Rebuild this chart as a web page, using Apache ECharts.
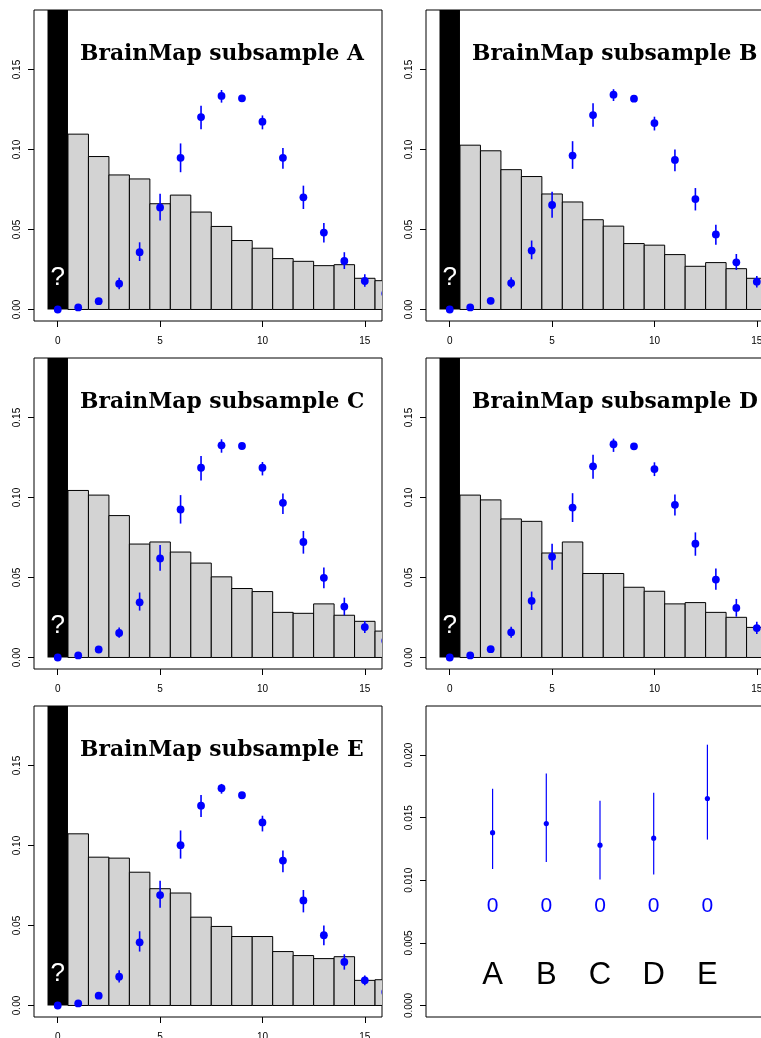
<!DOCTYPE html>
<html>
<head>
<meta charset="utf-8">
<script src="https://cdn.jsdelivr.net/npm/echarts@6/dist/echarts.min.js"></script>
<style>
  html, body { margin: 0; padding: 0; background: #fff; }
  #chart { width: 761px; height: 1038px; }
</style>
</head>
<body>
<div id="chart"></div>
<script>
// histogram bins 1..16 (bin 0 is the unknown "?" bar)
const histBins = [1, 2, 3, 4, 5, 6, 7, 8, 9, 10, 11, 12, 13, 14, 15, 16];
const pointBins = [0, 1, 2, 3, 4, 5, 6, 7, 8, 9, 10, 11, 12, 13, 14, 15, 16];

const histA = [0.1096, 0.0956, 0.0841, 0.0816, 0.0661, 0.0715, 0.0609, 0.0519, 0.0431, 0.0383, 0.0318, 0.0301, 0.0274, 0.0280, 0.0195, 0.0180];
const histB = [0.1027, 0.0992, 0.0874, 0.0831, 0.0722, 0.0672, 0.0561, 0.0521, 0.0412, 0.0402, 0.0343, 0.0270, 0.0293, 0.0255, 0.0195, 0.0185];
const histC = [0.1044, 0.1015, 0.0887, 0.0709, 0.0722, 0.0659, 0.0590, 0.0504, 0.0431, 0.0412, 0.0282, 0.0276, 0.0335, 0.0264, 0.0226, 0.0165];
const histD = [0.1015, 0.0985, 0.0866, 0.0851, 0.0653, 0.0722, 0.0525, 0.0525, 0.0439, 0.0414, 0.0335, 0.0343, 0.0282, 0.0251, 0.0188, 0.0170];
const histE = [0.1073, 0.0927, 0.0921, 0.0833, 0.0730, 0.0703, 0.0552, 0.0494, 0.0431, 0.0431, 0.0337, 0.0312, 0.0293, 0.0305, 0.0157, 0.0161];

const fitA = [0, 0.0013, 0.0052, 0.0161, 0.0358, 0.0638, 0.0948, 0.1203, 0.1335, 0.1320, 0.1174, 0.0948, 0.0701, 0.0481, 0.0303, 0.0178, 0.0100];
const lowA = [0, 0.0008, 0.0043, 0.0126, 0.0303, 0.0556, 0.0858, 0.1126, 0.1293, 0.1305, 0.1126, 0.0879, 0.0628, 0.0418, 0.0253, 0.0142, 0.0075];
const highA = [0, 0.0018, 0.0062, 0.0199, 0.0420, 0.0724, 0.1038, 0.1274, 0.1372, 0.1335, 0.1213, 0.1010, 0.0774, 0.0540, 0.0358, 0.0220, 0.0125];

const fitB = [0, 0.0013, 0.0054, 0.0165, 0.0368, 0.0653, 0.0962, 0.1215, 0.1343, 0.1318, 0.1165, 0.0935, 0.0690, 0.0469, 0.0295, 0.0174, 0.0095];
const lowB = [0, 0.0008, 0.0045, 0.0132, 0.0314, 0.0573, 0.0879, 0.1142, 0.1303, 0.1303, 0.1119, 0.0864, 0.0619, 0.0404, 0.0247, 0.0138, 0.0070];
const highB = [0, 0.0018, 0.0064, 0.0201, 0.0431, 0.0736, 0.1052, 0.1289, 0.1377, 0.1333, 0.1205, 0.1000, 0.0759, 0.0529, 0.0347, 0.0209, 0.0120];

const fitC = [0, 0.0013, 0.0050, 0.0153, 0.0345, 0.0619, 0.0925, 0.1186, 0.1326, 0.1322, 0.1186, 0.0967, 0.0722, 0.0498, 0.0318, 0.0190, 0.0105];
const lowC = [0, 0.0008, 0.0041, 0.0123, 0.0293, 0.0542, 0.0837, 0.1107, 0.1280, 0.1307, 0.1138, 0.0897, 0.0649, 0.0433, 0.0264, 0.0153, 0.0080];
const highC = [0, 0.0018, 0.0060, 0.0188, 0.0406, 0.0703, 0.1015, 0.1259, 0.1364, 0.1337, 0.1222, 0.1025, 0.0791, 0.0563, 0.0374, 0.0228, 0.0130];

const fitD = [0, 0.0013, 0.0052, 0.0157, 0.0354, 0.0630, 0.0937, 0.1195, 0.1333, 0.1320, 0.1178, 0.0954, 0.0711, 0.0487, 0.0310, 0.0184, 0.0100];
const lowD = [0, 0.0008, 0.0043, 0.0123, 0.0297, 0.0548, 0.0847, 0.1117, 0.1285, 0.1305, 0.1134, 0.0887, 0.0636, 0.0423, 0.0255, 0.0146, 0.0075];
const highD = [0, 0.0018, 0.0062, 0.0192, 0.0412, 0.0711, 0.1027, 0.1268, 0.1368, 0.1335, 0.1220, 0.1019, 0.0782, 0.0556, 0.0366, 0.0224, 0.0125];

const fitE = [0, 0.0013, 0.0061, 0.0180, 0.0395, 0.0690, 0.1002, 0.1249, 0.1358, 0.1314, 0.1144, 0.0906, 0.0657, 0.0439, 0.0272, 0.0157, 0.0085];
const lowE = [0, 0.0008, 0.0051, 0.0144, 0.0337, 0.0611, 0.0918, 0.1178, 0.1324, 0.1299, 0.1088, 0.0833, 0.0582, 0.0377, 0.0224, 0.0126, 0.0060];
const highE = [0, 0.0018, 0.0071, 0.0220, 0.0464, 0.0780, 0.1094, 0.1316, 0.1385, 0.1329, 0.1186, 0.0969, 0.0722, 0.0500, 0.0320, 0.0188, 0.0110];

// last panel: probability of zero per subsample
const subsamples = ['A', 'B', 'C', 'D', 'E'];
const zeroProb = [0.0138, 0.01453, 0.0128, 0.01336, 0.01653];
const zeroLow = [0.0109, 0.01146, 0.01007, 0.01047, 0.01325];
const zeroHigh = [0.01731, 0.01853, 0.01635, 0.01699, 0.02083];
const zeroCounts = ['0', '0', '0', '0', '0'];

const histTicks = [0, 5, 10, 15];
const histYTicks = [0, 0.05, 0.10, 0.15];
const zeroYTicks = [0, 0.005, 0.010, 0.015, 0.020];

const panels = [
  { name: 'A', hist: histA, fit: fitA, low: lowA, high: highA },
  { name: 'B', hist: histB, fit: fitB, low: lowB, high: highB },
  { name: 'C', hist: histC, fit: fitC, low: lowC, high: highC },
  { name: 'D', hist: histD, fit: fitD, low: lowD, high: highD },
  { name: 'E', hist: histE, fit: fitE, low: lowE, high: highE }
];

const SANS = 'Liberation Sans, Arial, sans-serif';
const BLUE = '#0000ff';
const lefts = [34, 426];
const tops = [10, 358, 706];
const W = 348, H = 311;

const grids = [], xAxes = [], yAxes = [], series = [], titles = [];

function axisCommon(show) {
  return {
    axisLine: { show: false, onZero: false },
    splitLine: { show: false },
    axisTick: { show: show, length: 6, lineStyle: { color: '#000' } },
    axisLabel: { show: show, color: '#000', fontFamily: SANS, fontSize: 10 }
  };
}

for (let i = 0; i < 6; i++) {
  grids.push({
    left: lefts[i % 2], top: tops[Math.floor(i / 2)], width: W, height: H,
    outerBoundsMode: 'none', containLabel: false,
    show: true, borderColor: '#000', borderWidth: 1, backgroundColor: 'transparent'
  });
}

panels.forEach((p, i) => {
  const base = axisCommon(true);
  xAxes.push(Object.assign({}, base, {
    type: 'value', gridIndex: i, min: -1.16, max: 15.84,
    axisTick: Object.assign({}, base.axisTick, { customValues: histTicks }),
    axisLabel: Object.assign({}, base.axisLabel, { customValues: histTicks, margin: 15 })
  }));
  yAxes.push(Object.assign({}, base, {
    type: 'value', gridIndex: i, min: -0.0072, max: 0.1872,
    axisTick: Object.assign({}, base.axisTick, { customValues: histYTicks }),
    axisLabel: Object.assign({}, base.axisLabel, {
      customValues: histYTicks, rotate: 90, margin: 12,
      formatter: (v) => v.toFixed(2)
    })
  }));

  // unknown bin 0: black bar with "?"
  series.push({
    type: 'custom', xAxisIndex: i, yAxisIndex: i, clip: true, silent: true,
    data: [[0, 0.1872]],
    renderItem(params, api) {
      const a = api.coord([api.value(0) - 0.5, api.value(1)]);
      const b = api.coord([api.value(0) + 0.5, 0]);
      const q = api.coord([api.value(0), 0.0196]);
      return {
        type: 'group',
        children: [
          { type: 'rect', shape: { x: a[0], y: a[1] - 5, width: b[0] - a[0], height: b[1] - a[1] + 5 },
            style: { fill: '#000' } },
          { type: 'text', x: q[0], y: q[1], z2: 10,
            style: { text: '?', fill: '#fff', font: '26px ' + SANS, align: 'center', verticalAlign: 'middle' } }
        ]
      };
    }
  });

  // histogram of observed frequencies
  series.push({
    type: 'custom', xAxisIndex: i, yAxisIndex: i, clip: true, silent: true,
    data: histBins.map((b, k) => [b, p.hist[k]]),
    renderItem(params, api) {
      const a = api.coord([api.value(0) - 0.5, api.value(1)]);
      const b = api.coord([api.value(0) + 0.5, 0]);
      return {
        type: 'rect',
        shape: { x: a[0], y: a[1], width: b[0] - a[0], height: b[1] - a[1] },
        style: { fill: '#d3d3d3', stroke: '#000', lineWidth: 1 }
      };
    }
  });

  // fitted probabilities with intervals
  series.push({
    type: 'custom', xAxisIndex: i, yAxisIndex: i, clip: true, silent: true, z: 5,
    data: pointBins.map((b, k) => [b, p.fit[k], p.low[k], p.high[k]]),
    renderItem(params, api) {
      const c = api.coord([api.value(0), api.value(1)]);
      const lo = api.coord([api.value(0), api.value(2)]);
      const hi = api.coord([api.value(0), api.value(3)]);
      return {
        type: 'group',
        children: [
          { type: 'line', shape: { x1: lo[0], y1: lo[1], x2: hi[0], y2: hi[1] },
            style: { stroke: BLUE, lineWidth: 1.6 } },
          { type: 'circle', shape: { cx: c[0], cy: c[1], r: 3.9 }, style: { fill: BLUE } }
        ]
      };
    }
  });

  titles.push({
    text: 'BrainMap subsample ' + p.name,
    left: lefts[i % 2] + 46, top: tops[Math.floor(i / 2)] + 33,
    padding: 0,
    textStyle: { fontFamily: 'DejaVu Serif', fontWeight: 'bold', fontSize: 21.8, color: '#000' }
  });
});

// last panel: zero probabilities
xAxes.push({ type: 'value', gridIndex: 5, min: -0.24, max: 6.24, show: false });
const zb = axisCommon(true);
yAxes.push(Object.assign({}, zb, {
  type: 'value', gridIndex: 5, min: -0.00092, max: 0.02392,
  axisTick: Object.assign({}, zb.axisTick, { customValues: zeroYTicks }),
  axisLabel: Object.assign({}, zb.axisLabel, {
    customValues: zeroYTicks, rotate: 90, margin: 12,
    formatter: (v) => v.toFixed(3)
  })
}));

series.push({
  type: 'custom', xAxisIndex: 5, yAxisIndex: 5, silent: true,
  data: subsamples.map((s, k) => [k + 1, zeroProb[k], zeroLow[k], zeroHigh[k]]),
  renderItem(params, api) {
    const k = params.dataIndex;
    const x = api.value(0);
    const c = api.coord([x, api.value(1)]);
    const lo = api.coord([x, api.value(2)]);
    const hi = api.coord([x, api.value(3)]);
    const t0 = api.coord([x, 0.0079]);
    const t1 = api.coord([x, 0.0024]);
    return {
      type: 'group',
      children: [
        { type: 'line', shape: { x1: lo[0], y1: lo[1], x2: hi[0], y2: hi[1] },
          style: { stroke: BLUE, lineWidth: 1.2 } },
        { type: 'circle', shape: { cx: c[0], cy: c[1], r: 2.6 }, style: { fill: BLUE } },
        { type: 'text', x: t0[0], y: t0[1],
          style: { text: zeroCounts[k], fill: BLUE, font: '21px ' + SANS, align: 'center', verticalAlign: 'middle' } },
        { type: 'text', x: t1[0], y: t1[1],
          style: { text: subsamples[k], fill: '#000', font: '31px ' + SANS, align: 'center', verticalAlign: 'middle' } }
      ]
    };
  }
});

const chart = echarts.init(document.getElementById('chart'), null, { renderer: 'canvas' });
chart.setOption({
  animation: false,
  backgroundColor: '#fff',
  title: titles,
  grid: grids,
  xAxis: xAxes,
  yAxis: yAxes,
  series: series
});
</script>
</body>
</html>
